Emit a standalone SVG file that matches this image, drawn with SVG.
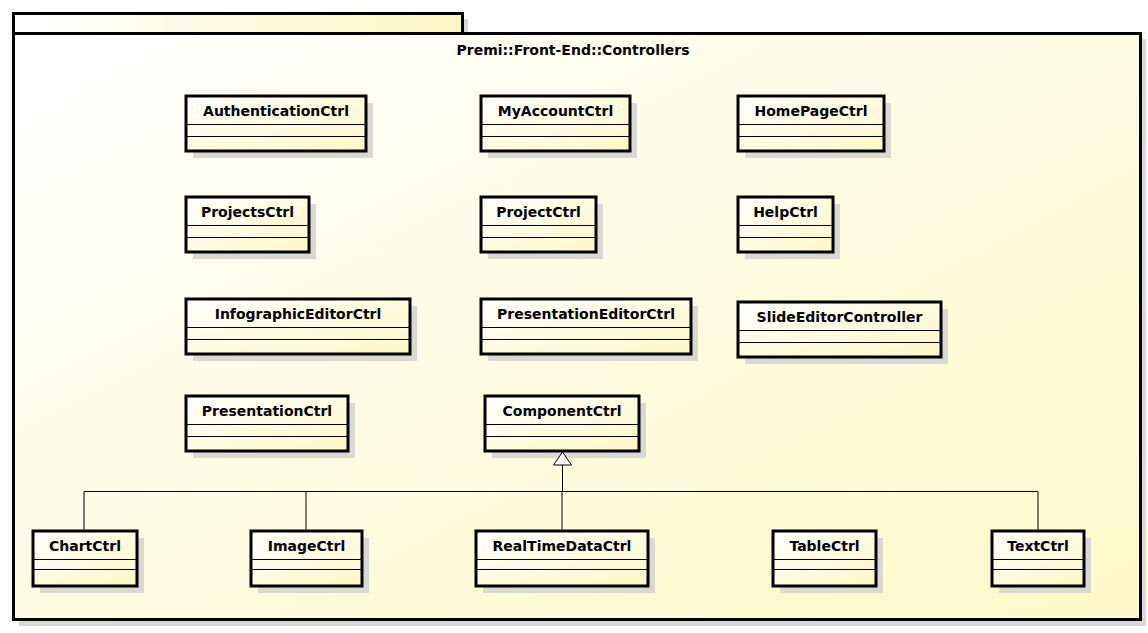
<svg xmlns="http://www.w3.org/2000/svg" width="1148" height="633" viewBox="0 0 1148 633">
<defs>
<linearGradient id="gBox" x1="0" y1="0" x2="1" y2="1">
<stop offset="0" stop-color="#ffffff"/>
<stop offset="1" stop-color="#fdf8c4"/>
</linearGradient>
<linearGradient id="gPkg" x1="0" y1="0" x2="1" y2="1">
<stop offset="0" stop-color="#ffffff"/>
<stop offset="1" stop-color="#fdf9c8"/>
</linearGradient>
<linearGradient id="gTab" x1="0" y1="0" x2="1" y2="0">
<stop offset="0" stop-color="#ffffff"/>
<stop offset="1" stop-color="#fdf8c0"/>
</linearGradient>
</defs>
<style>
.shadow{fill:#d9d9d2;stroke:none}
.box{fill:url(#gBox);stroke:#000;stroke-width:3}
.sep{stroke:#000;stroke-width:1}
.lbl{font-family:"DejaVu Sans",sans-serif;font-weight:bold;font-size:14px;fill:#000;text-anchor:middle}
.conn{fill:none;stroke:#000;stroke-width:1}
.pkg{stroke:#000;stroke-width:3}
</style>
<rect width="1148" height="633" fill="#ffffff"/>
<g id="package">
<rect class="shadow" x="19" y="19" width="449" height="20"/>
<rect class="shadow" x="19" y="39" width="1127" height="587"/>
<rect class="pkg" x="13.5" y="13.5" width="449" height="20" fill="url(#gTab)"/>
<rect class="pkg" x="13.5" y="33.5" width="1127" height="586" fill="url(#gPkg)"/>
<text class="lbl" x="573" y="55">Premi::Front-End::Controllers</text>
</g>
<g id="AuthenticationCtrl"><rect class="shadow" x="193" y="103" width="180" height="55"/><rect class="box" x="186" y="96" width="180" height="55"/><line class="sep" x1="186" y1="124.5" x2="366" y2="124.5"/><line class="sep" x1="186" y1="136.5" x2="366" y2="136.5"/><text class="lbl" x="276" y="116">AuthenticationCtrl</text></g>
<g id="MyAccountCtrl"><rect class="shadow" x="488" y="103" width="149" height="55"/><rect class="box" x="481" y="96" width="149" height="55"/><line class="sep" x1="481" y1="124.5" x2="630" y2="124.5"/><line class="sep" x1="481" y1="136.5" x2="630" y2="136.5"/><text class="lbl" x="555.5" y="116">MyAccountCtrl</text></g>
<g id="HomePageCtrl"><rect class="shadow" x="745" y="103" width="146" height="55"/><rect class="box" x="738" y="96" width="146" height="55"/><line class="sep" x1="738" y1="124.5" x2="884" y2="124.5"/><line class="sep" x1="738" y1="136.5" x2="884" y2="136.5"/><text class="lbl" x="811" y="116">HomePageCtrl</text></g>
<g id="ProjectsCtrl"><rect class="shadow" x="193" y="204" width="123" height="55"/><rect class="box" x="186" y="197" width="123" height="55"/><line class="sep" x1="186" y1="225.5" x2="309" y2="225.5"/><line class="sep" x1="186" y1="237.5" x2="309" y2="237.5"/><text class="lbl" x="247.5" y="217">ProjectsCtrl</text></g>
<g id="ProjectCtrl"><rect class="shadow" x="488" y="204" width="115" height="55"/><rect class="box" x="481" y="197" width="115" height="55"/><line class="sep" x1="481" y1="225.5" x2="596" y2="225.5"/><line class="sep" x1="481" y1="237.5" x2="596" y2="237.5"/><text class="lbl" x="538.5" y="217">ProjectCtrl</text></g>
<g id="HelpCtrl"><rect class="shadow" x="745" y="204" width="95" height="55"/><rect class="box" x="738" y="197" width="95" height="55"/><line class="sep" x1="738" y1="225.5" x2="833" y2="225.5"/><line class="sep" x1="738" y1="237.5" x2="833" y2="237.5"/><text class="lbl" x="785.5" y="217">HelpCtrl</text></g>
<g id="InfographicEditorCtrl"><rect class="shadow" x="193" y="306" width="224" height="55"/><rect class="box" x="186" y="299" width="224" height="55"/><line class="sep" x1="186" y1="327.5" x2="410" y2="327.5"/><line class="sep" x1="186" y1="339.5" x2="410" y2="339.5"/><text class="lbl" x="298" y="319">InfographicEditorCtrl</text></g>
<g id="PresentationEditorCtrl"><rect class="shadow" x="488" y="306" width="210" height="55"/><rect class="box" x="481" y="299" width="210" height="55"/><line class="sep" x1="481" y1="327.5" x2="691" y2="327.5"/><line class="sep" x1="481" y1="339.5" x2="691" y2="339.5"/><text class="lbl" x="586" y="319">PresentationEditorCtrl</text></g>
<g id="SlideEditorController"><rect class="shadow" x="745" y="309" width="203" height="55"/><rect class="box" x="738" y="302" width="203" height="55"/><line class="sep" x1="738" y1="330.5" x2="941" y2="330.5"/><line class="sep" x1="738" y1="342.5" x2="941" y2="342.5"/><text class="lbl" x="839.5" y="322">SlideEditorController</text></g>
<g id="PresentationCtrl"><rect class="shadow" x="193" y="403" width="162" height="55"/><rect class="box" x="186" y="396" width="162" height="55"/><line class="sep" x1="186" y1="424.5" x2="348" y2="424.5"/><line class="sep" x1="186" y1="436.5" x2="348" y2="436.5"/><text class="lbl" x="267" y="416">PresentationCtrl</text></g>
<g id="ComponentCtrl"><rect class="shadow" x="492" y="403" width="154" height="55"/><rect class="box" x="485" y="396" width="154" height="55"/><line class="sep" x1="485" y1="424.5" x2="639" y2="424.5"/><line class="sep" x1="485" y1="436.5" x2="639" y2="436.5"/><text class="lbl" x="562" y="416">ComponentCtrl</text></g>
<g id="ChartCtrl"><rect class="shadow" x="40" y="538" width="104" height="55"/><rect class="box" x="33" y="531" width="104" height="55"/><line class="sep" x1="33" y1="559.5" x2="137" y2="559.5"/><line class="sep" x1="33" y1="569.5" x2="137" y2="569.5"/><text class="lbl" x="85" y="551">ChartCtrl</text></g>
<g id="ImageCtrl"><rect class="shadow" x="258" y="538" width="111" height="55"/><rect class="box" x="251" y="531" width="111" height="55"/><line class="sep" x1="251" y1="559.5" x2="362" y2="559.5"/><line class="sep" x1="251" y1="569.5" x2="362" y2="569.5"/><text class="lbl" x="306.5" y="551">ImageCtrl</text></g>
<g id="RealTimeDataCtrl"><rect class="shadow" x="483" y="538" width="172" height="55"/><rect class="box" x="476" y="531" width="172" height="55"/><line class="sep" x1="476" y1="559.5" x2="648" y2="559.5"/><line class="sep" x1="476" y1="569.5" x2="648" y2="569.5"/><text class="lbl" x="562" y="551">RealTimeDataCtrl</text></g>
<g id="TableCtrl"><rect class="shadow" x="780" y="538" width="103" height="55"/><rect class="box" x="773" y="531" width="103" height="55"/><line class="sep" x1="773" y1="559.5" x2="876" y2="559.5"/><line class="sep" x1="773" y1="569.5" x2="876" y2="569.5"/><text class="lbl" x="824.5" y="551">TableCtrl</text></g>
<g id="TextCtrl"><rect class="shadow" x="999" y="538" width="92" height="55"/><rect class="box" x="992" y="531" width="92" height="55"/><line class="sep" x1="992" y1="559.5" x2="1084" y2="559.5"/><line class="sep" x1="992" y1="569.5" x2="1084" y2="569.5"/><text class="lbl" x="1038" y="551">TextCtrl</text></g>
<g id="connectors">
<path class="conn" d="M84 529.5V491.5H1038V529.5M306 491.5V529.5M562 491.5V529.5M562.5 491.5V465"/>
<polygon points="562.5,452 553.5,465 571.5,465" fill="#fff" stroke="#000" stroke-width="1"/>
</g>
</svg>
